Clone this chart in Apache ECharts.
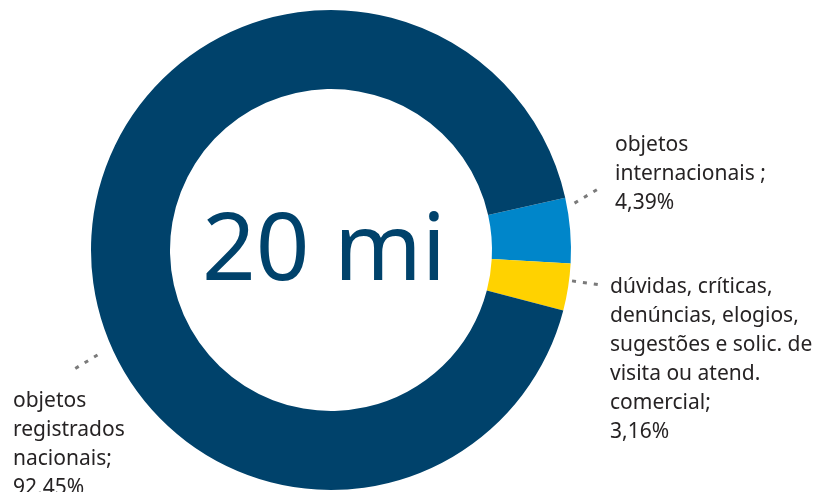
<!DOCTYPE html>
<html>
<head>
<meta charset="utf-8">
<script src="https://cdn.jsdelivr.net/npm/echarts@6/dist/echarts.min.js"></script>
<style>
  html, body { margin: 0; padding: 0; background: #ffffff; }
  #chart { width: 821px; height: 492px; }
</style>
</head>
<body>
<div id="chart"></div>
<script>
// Categories and shares (%) of the 20 million items
const categories = [
  'objetos\ninternacionais ;',
  'dúvidas, críticas,\ndenúncias, elogios,\nsugestões e solic. de\nvisita ou atend.\ncomercial;',
  'objetos\nregistrados\nnacionais;'
];
const shares = [4.39, 3.16, 92.45];
const totalLabel = '20 mi';

// Styling and layout
const colors = ['#0086CA', '#FFD200', '#00426B'];
const CX = 331, CY = 250, R_IN = 161, R_OUT = 240;
const FONT = '"Noto Sans", "Open Sans", sans-serif';

// Label anchor (top-left) for each slice
const labelAnchors = [[615, 131], [610, 273], [13, 387]];
// Leader lines as polar pairs: [angleDeg, radius] start and end
const leaders = [
  [[10.9, 248], [13.0, 276]],
  [[-7.3, 243], [-7.4, 272]],
  [[204.2, 256], [205.0, 288]]
];

function polar(p) {
  const a = p[0] * Math.PI / 180;
  return [CX + p[1] * Math.cos(a), CY - p[1] * Math.sin(a)];
}

const data = categories.map((name, i) => ({
  name: name,
  value: shares[i],
  itemStyle: { color: colors[i] }
}));

const chart = echarts.init(document.getElementById('chart'), null, { renderer: 'canvas' });
chart.setOption({
  animation: false,
  backgroundColor: '#ffffff',
  graphic: [{
    type: 'text',
    x: 324,
    y: 253,
    style: {
      text: totalLabel,
      fill: '#00426B',
      font: '400 94px ' + FONT,
      textAlign: 'center',
      textVerticalAlign: 'middle'
    }
  }],
  series: [{
    type: 'pie',
    center: [CX, CY],
    radius: [R_IN, R_OUT],
    startAngle: 12.6,
    clockwise: true,
    avoidLabelOverlap: false,
    silent: true,
    data: data,
    label: {
      show: true,
      position: 'outside',
      formatter: p => p.name + '\n' + p.value.toFixed(2).replace('.', ',') + '%',
      fontFamily: FONT,
      fontSize: 21,
      lineHeight: 29,
      color: '#262324'
    },
    labelLine: {
      show: true,
      lineStyle: { color: '#7a7a7a', width: 3, type: [4, 7] }
    },
    labelLayout: params => {
      const i = params.dataIndex;
      return {
        x: labelAnchors[i][0],
        y: labelAnchors[i][1],
        align: 'left',
        verticalAlign: 'top',
        labelLinePoints: [polar(leaders[i][0]), polar(leaders[i][1])]
      };
    }
  }]
});
</script>
</body>
</html>
